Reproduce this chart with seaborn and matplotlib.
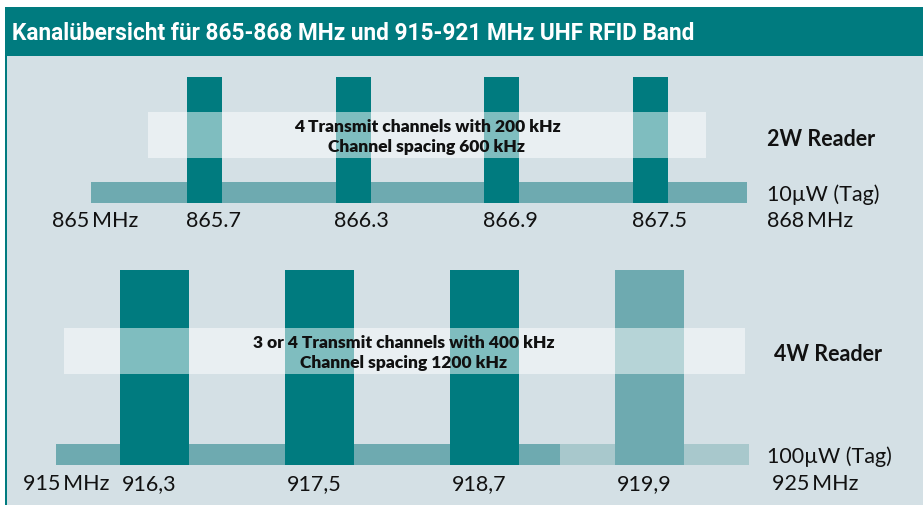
import numpy as np
import pandas as pd
import matplotlib.pyplot as plt
import matplotlib.patches as mpatches
import seaborn as sns

# Channel data
eu_channels = [865.7, 866.3, 866.9, 867.5]
eu_labels = ["865.7", "866.3", "866.9", "867.5"]
us_channels = [916.3, 917.5, 918.7, 919.9]
us_labels = ["916,3", "917,5", "918,7", "919,9"]
us_kind = ["fixed", "fixed", "fixed", "optional"]

reader_names = ["2W Reader", "4W Reader"]
reader_height = [6.0, 9.3]   # relative bar height (tag level = 1)
tag_names = ["10\u00b5W (Tag)", "100\u00b5W (Tag)"]
tag_height = 1.0

eu_tag_band = [865.24, 867.89]
us_tag_band = [915.58, 919.25, 920.62]   # second segment = optional 4th channel area

eu_edges = ["865\u2009MHz", "868\u2009MHz"]
us_edges = ["915\u2009MHz", "925\u2009MHz"]
eu_note = "4 Transmit channels with 200 kHz\nChannel spacing 600 kHz"
us_note = "3 or 4 Transmit channels with 400 kHz\nChannel spacing 1200 kHz"
title = "Kanal\u00fcbersicht f\u00fcr 865-868 MHz und 915-921 MHz UHF RFID Band"

teal = "#007b7f"
bg = "#d4e0e5"
base_dark = "#6eaab0"
base_light = "#a8c8cc"
ink = "#111111"

sns.set_theme(style="white")
plt.rcParams["font.family"] = ["Lato", "DejaVu Sans"]

W, H = 923, 506
fig = plt.figure(figsize=(W / 100, H / 100), dpi=100)
fig.patch.set_facecolor("white")


def fbox(x0, y0, x1, y1):
    # rectangle in figure pixels (y from the top)
    return (x0 / W, 1 - y1 / H), (x1 - x0) / W, (y1 - y0) / H


def ftext(x, y, s, **kw):
    fig.text(x / W, 1 - y / H, s, va="center", ha="left", color=ink, **kw)


# backgrounds and title bar
for (x0, y0, x1, y1), col, z in [((5, 57, W, H), bg, -2),
                                 ((5, 8, W, 57), teal, -1),
                                 ((5, 57, 6.5, H), teal, -1)]:
    xy, w, h = fbox(x0, y0, x1, y1)
    fig.patches.append(mpatches.Rectangle(xy, w, h, transform=fig.transFigure,
                                          facecolor=col, edgecolor="none", zorder=z))
fig.text(12 / W, 1 - 33 / H, title, color="white", fontsize=16.3, fontweight="bold",
         family=["Roboto", "DejaVu Sans"], va="center", ha="left")

# ---- top panel: 865-868 MHz ----
ax1 = fig.add_axes([0, 0, 1, 1])
ax1.patch.set_alpha(0)
ax1.barh(tag_height / 2, eu_tag_band[1] - eu_tag_band[0], left=eu_tag_band[0],
         height=tag_height, color=base_dark, linewidth=0, zorder=1)
eu_df = pd.DataFrame({"freq": eu_channels, "level": reader_height[0]})
sns.barplot(data=eu_df, x="freq", y="level", native_scale=True, width=0.235,
            color=teal, saturation=1, errorbar=None, linewidth=0, ax=ax1, zorder=2)
ax1.set_xlim(865.7 - 204.5 / 247.78, 865.7 + (W - 204.5) / 247.78)
ax1.set_ylim(-(H - 204) / 21, 204 / 21)
bw = 0.235 * 0.6
for f, lab in zip(eu_channels, eu_labels):
    ax1.text(f - bw / 2 - 0.005, -0.81, lab, fontsize=15.5, ha="left", va="center",
             color=ink, zorder=4)
ax1.axis("off")

xy, w, h = fbox(148, 113, 706, 159)
ax1.add_patch(mpatches.Rectangle(xy, w, h, transform=fig.transFigure,
                                 facecolor="white", alpha=0.5, edgecolor="none", zorder=3))
fig.text(427 / W, 1 - 137 / H, eu_note, fontsize=12.5, fontweight="heavy", ha="center",
         va="center", linespacing=1.25, color=ink, zorder=5)
ftext(52, 221, eu_edges[0], fontsize=15.5)
ftext(767, 221, eu_edges[1], fontsize=15.5)
ftext(767, 195, tag_names[0], fontsize=15.5)
ftext(767, 140, reader_names[0], fontsize=15.5, fontweight="bold")

# ---- bottom panel: 915-921 MHz ----
ax2 = fig.add_axes([0, 0, 1, 1])
ax2.patch.set_alpha(0)
ax2.barh(tag_height / 2, us_tag_band[1] - us_tag_band[0], left=us_tag_band[0],
         height=tag_height, color=base_dark, linewidth=0, zorder=1)
ax2.barh(tag_height / 2, us_tag_band[2] - us_tag_band[1], left=us_tag_band[1],
         height=tag_height, color=base_light, linewidth=0, zorder=1)
us_df = pd.DataFrame({"freq": us_channels, "level": reader_height[1], "kind": us_kind})
sns.barplot(data=us_df, x="freq", y="level", hue="kind", native_scale=True, width=0.424,
            palette={"fixed": teal, "optional": base_dark}, saturation=1, dodge=False,
            errorbar=None, legend=False, linewidth=0, ax=ax2, zorder=2)
ax2.set_xlim(916.3 - 154.5 / 137.5, 916.3 + (W - 154.5) / 137.5)
ax2.set_ylim(-(H - 466) / 21, 466 / 21)
bw = 0.424 * 1.2
for f, lab in zip(us_channels, us_labels):
    ax2.text(f - bw / 2 + 0.02, -0.86, lab, fontsize=15.5, ha="left", va="center",
             color=ink, zorder=4)
ax2.axis("off")

xy, w, h = fbox(64, 329, 745, 375)
ax2.add_patch(mpatches.Rectangle(xy, w, h, transform=fig.transFigure,
                                 facecolor="white", alpha=0.5, edgecolor="none", zorder=3))
fig.text(404 / W, 1 - 353 / H, us_note, fontsize=12.5, fontweight="heavy", ha="center",
         va="center", linespacing=1.25, color=ink, zorder=5)
ftext(23, 484, us_edges[0], fontsize=15.5)
ftext(772, 484, us_edges[1], fontsize=15.5)
ftext(767, 457, tag_names[1], fontsize=15.5)
ftext(774, 355, reader_names[1], fontsize=15.5, fontweight="bold")

fig.savefig("out.png", dpi=100, facecolor="white")
